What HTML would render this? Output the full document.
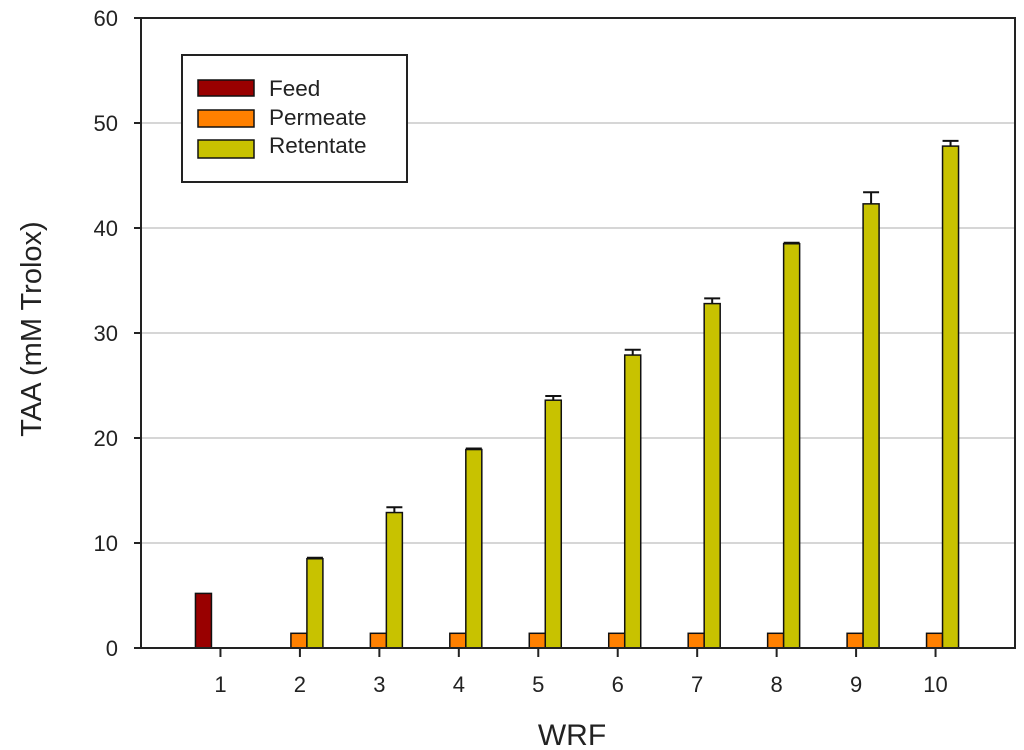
<!DOCTYPE html>
<html><head><meta charset="utf-8"><style>
html,body{margin:0;padding:0;background:#fff;}
svg{display:block;font-family:"Liberation Sans",Arial,sans-serif;}
</style></head><body>
<svg id="chart" width="1024" height="750">
<g id="grid"></g>
<g id="bars"></g>
<g id="axes"></g>
<text x="41" y="329" font-size="29" fill="#222" text-anchor="middle" transform="rotate(-90 41 329)">TAA (mM Trolox)</text>
<text x="572" y="745" font-size="30" fill="#222" text-anchor="middle">WRF</text>
<g>
<rect x="182" y="55" width="225" height="127" fill="#fff" stroke="#222" stroke-width="2"/>
<g><rect x="198" y="80" width="56" height="16" fill="#990000" stroke="#111" stroke-width="1.5"/><text x="269" y="96" font-size="22.5" fill="#222">Feed</text></g>
<g><rect x="198" y="110" width="56" height="17" fill="#ff8000" stroke="#111" stroke-width="1.5"/><text x="269" y="125" font-size="22.5" fill="#222">Permeate</text></g>
<g><rect x="198" y="140" width="56" height="18" fill="#c8c200" stroke="#111" stroke-width="1.5"/><text x="269" y="153" font-size="22.5" fill="#222">Retentate</text></g>
</g>
</svg>
<script>
const categories = [1,2,3,4,5,6,7,8,9,10];
const feedValues = [5.2,null,null,null,null,null,null,null,null,null];
const permeateValues = [null,1.4,1.4,1.4,1.4,1.4,1.4,1.4,1.4,1.4];
const retentateValues = [null,8.5,12.9,18.9,23.6,27.9,32.8,38.5,42.3,47.8];
const retentateErrors = [null,0.1,0.5,0.1,0.4,0.5,0.5,0.1,1.1,0.5];
const yTicks = [0,10,20,30,40,50,60];

const NS="http://www.w3.org/2000/svg";
const L=141,R=1015,T=18,B=648;
const x = c => L + (c/11)*(R-L);
const y = v => B - (v/60)*(B-T);
function mk(tag, attrs, parent){const e=document.createElementNS(NS,tag);for(const k in attrs)e.setAttribute(k,attrs[k]);parent.appendChild(e);return e;}
const grid=document.getElementById('grid'),bars=document.getElementById('bars'),axes=document.getElementById('axes');
yTicks.forEach(t=>{
  if(t>0&&t<60){const g=mk('line',{x1:L,x2:R,y1:y(t),y2:y(t),stroke:'#c8c8c8','stroke-width':1.5},grid);
  
  }
  const tk=mk('line',{x1:L-7,x2:L,y1:y(t),y2:y(t),stroke:'#222','stroke-width':2},axes);
  
  
  const lb=mk('text',{x:L-23,y:y(t)+8,'font-size':22,fill:'#222','text-anchor':'end'},axes);
  lb.textContent=t;
  
  
});
mk('polyline',{points:`${L},${B} ${L},${T} ${R},${T} ${R},${B} ${L},${B}`,fill:'none',stroke:'#222','stroke-width':2},axes);
categories.forEach((c,i)=>{
  const cx=x(c);
  const tk=mk('line',{x1:cx,x2:cx,y1:B,y2:B+9,stroke:'#222','stroke-width':2},axes);
  
  
  const lb=mk('text',{x:cx,y:B+44,'font-size':22,fill:'#222','text-anchor':'middle'},axes);
  lb.textContent=c;
  
  
  const series=[[feedValues[i],-25,'#990000','feed'],[permeateValues[i],-9,'#ff8000','permeate'],[retentateValues[i],7,'#c8c200','retentate']];
  series.forEach(([v,off,col,nm])=>{
    if(v==null)return;
    if(nm==='retentate'&&retentateErrors[i]!=null){
      const e=retentateErrors[i];
      const ex=cx+off+8;
      const el=mk('path',{d:`M${ex},${y(v)} V${y(v+e)} M${ex-8},${y(v+e)} H${ex+8}`,stroke:'#111','stroke-width':2,fill:'none'},bars);
      
      
    }
    const r=mk('rect',{x:cx+off,y:y(v),width:16,height:B-y(v),fill:col,stroke:'#111','stroke-width':1.5},bars);
    
    
  });
});
</script>
</body></html>
